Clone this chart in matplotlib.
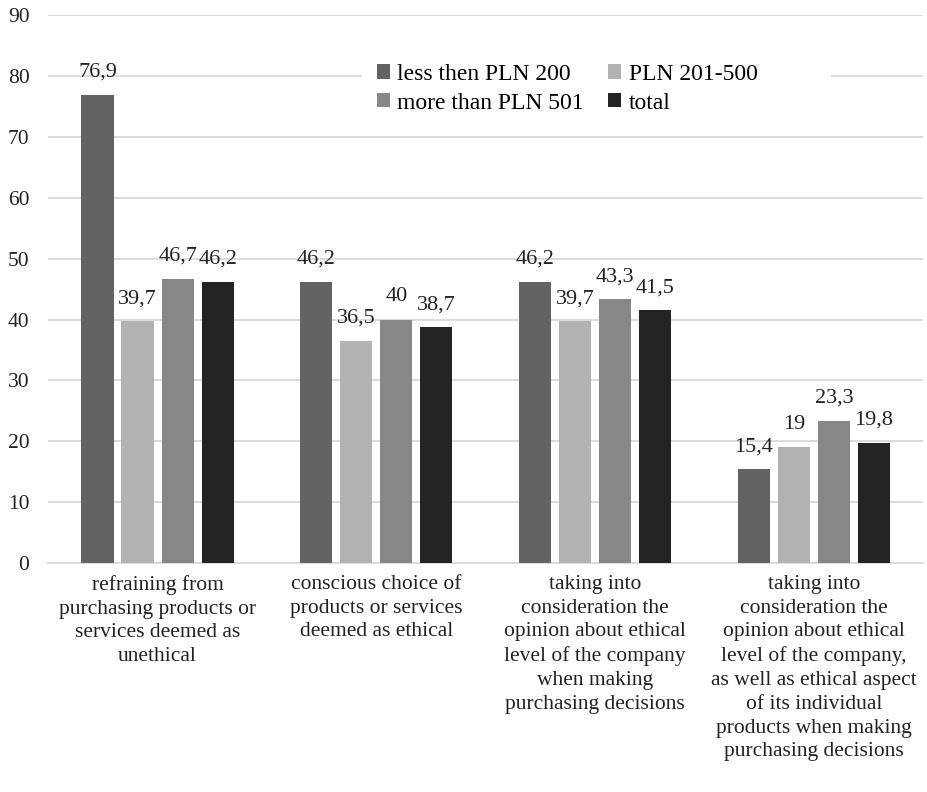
import numpy as np
import matplotlib.pyplot as plt
from matplotlib.patches import Rectangle

# Share of respondents (%) by monthly spending group

categories = ['refraining from\npurchasing products or\nservices deemed as\nunethical',
              'conscious choice of\nproducts or services\ndeemed as ethical',
              'taking into\nconsideration the\nopinion about ethical\nlevel of the company\nwhen making\npurchasing decisions',
              'taking into\nconsideration the\nopinion about ethical\nlevel of the company,\nas well as ethical aspect\nof its individual\nproducts when making\npurchasing decisions']
series_names = ['less then PLN 200', 'PLN 201-500', 'more than PLN 501', 'total']
less_200 = [76.9, 46.2, 46.2, 15.4]
pln_201_500 = [39.7, 36.5, 39.7, 19.0]
more_501 = [46.7, 40.0, 43.3, 23.3]
total = [46.2, 38.7, 41.5, 19.8]
colors = ['#636363', '#b2b2b2', '#878787', '#232323']

plt.rcParams['font.family'] = ['Liberation Serif', 'DejaVu Serif']

fig = plt.figure(figsize=(9.27, 7.92), dpi=100)
ax = fig.add_axes([0.052, 0.289, 0.944, 0.692])

x = np.arange(len(categories))
width = 0.147
step = 0.183
bars = []
for i, (name, vals) in enumerate(zip(series_names, [less_200, pln_201_500, more_501, total])):
    pos = x + (i - 1.5) * step
    bars.append(ax.bar(pos, vals, width, color=colors[i], label=name, zorder=3))
    for px, v in zip(pos, vals):
        txt = ('%g' % v).replace('.', ',')
        ax.text(px, v + 3.0, txt, ha='center', va='baseline', fontsize=16, color='#222222', zorder=4)

ax.set_ylim(0, 90)
ax.set_xlim(-0.5, 3.5)
ax.set_yticks(range(0, 91, 10))
ax.yaxis.grid(True, color='#d9d9d9', linewidth=1.3, zorder=0)
ax.set_axisbelow(True)
for s in ['top', 'right', 'left']:
    ax.spines[s].set_visible(False)
ax.spines['bottom'].set_color('#d9d9d9')
ax.spines['bottom'].set_linewidth(1.3)
ax.tick_params(left=False, bottom=False, labelsize=15.5, colors='#222222')
ax.tick_params(axis='y', pad=10)
ax.set_xticks(x)
ax.set_xticklabels(categories, fontsize=15.5, linespacing=1.34, va='top')
ax.tick_params(axis='x', pad=5)

# white legend box hiding the gridline behind it
ax.add_patch(Rectangle((0.3586, 0.8194), 0.536, 0.102, transform=ax.transAxes,
                       facecolor='white', edgecolor='none', zorder=1))

# row-wise legend order: less/201-500 on top, more/total below
order = [0, 2, 1, 3]
leg = ax.legend([bars[k] for k in order], [series_names[k] for k in order],
                ncol=2, loc='upper left', bbox_to_anchor=(0.3757, 0.911), frameon=False,
                fontsize=17, handlelength=0.55, handleheight=0.55, handletextpad=0.3,
                columnspacing=1.05, labelspacing=0.33, borderpad=0, borderaxespad=0)

fig.savefig('out.png', dpi=100)
